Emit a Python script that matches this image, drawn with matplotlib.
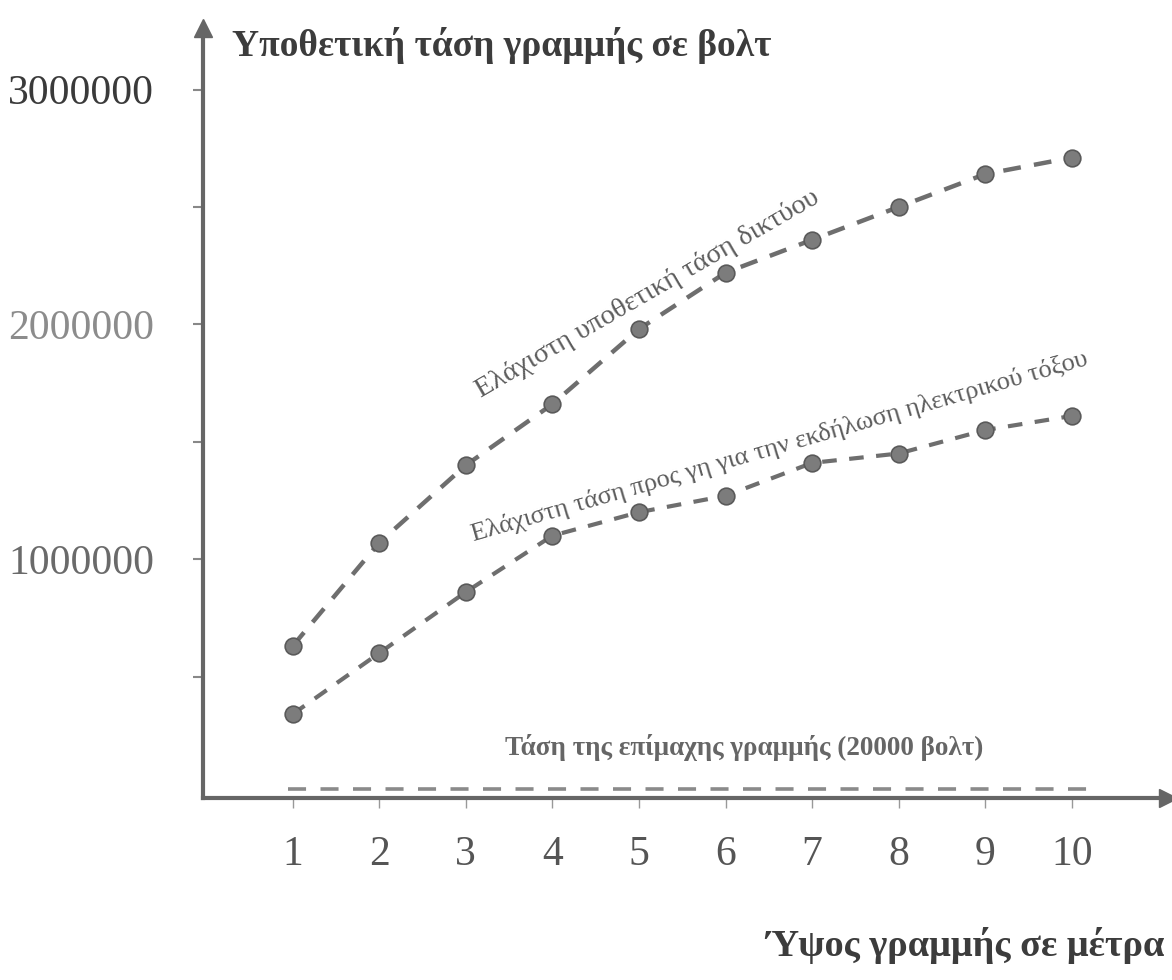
import matplotlib
matplotlib.use("Agg")
import matplotlib.pyplot as plt

# ── Data ─────────────────────────────────────────────────────────────────────
HEIGHT_M = [1, 2, 3, 4, 5, 6, 7, 8, 9, 10]
NETWORK_V = [630000, 1070000, 1400000, 1660000, 1980000,
             2220000, 2360000, 2500000, 2640000, 2710000]
ARC_V = [340000, 600000, 860000, 1100000, 1200000,
         1270000, 1410000, 1450000, 1550000, 1610000]
LINE_V = 20000
Y_TICKS = [1000000, 2000000, 3000000]
Y_TICK_LABELS = ["1000000", "2000000", "3000000"]

SERIF = ["Liberation Serif", "DejaVu Serif"]
AX_COL = "#666666"
LINE_COL = "#6e6e6e"

fig = plt.figure(figsize=(11.72, 9.8), dpi=100)
ax = fig.add_axes([203 / 1172, 1 - 798 / 980, (1168 - 203) / 1172, (798 - 28) / 980])
ax.set_xlim(-0.035, 11.11)
ax.set_ylim(-17000, 3262000)

for s in ("top", "right"):
    ax.spines[s].set_visible(False)
for s in ("left", "bottom"):
    ax.spines[s].set_color(AX_COL)
    ax.spines[s].set_linewidth(3)

# arrow heads on the axes
ax.plot(1, 0, marker=">", ms=13, color=AX_COL, transform=ax.transAxes, clip_on=False)
ax.plot(0, 1, marker="^", ms=13, color=AX_COL, transform=ax.transAxes, clip_on=False)

# curves
ax.plot(HEIGHT_M, NETWORK_V, linestyle=(0, (4, 3)), lw=3.2, color=LINE_COL,
        marker="o", ms=12, mfc="#7c7c7c", mec="#5a5a5a", mew=1.2, zorder=3)
ax.plot(HEIGHT_M, ARC_V, linestyle=(0, (3.5, 3)), lw=3.0, color=LINE_COL,
        marker="o", ms=12, mfc="#7c7c7c", mec="#5a5a5a", mew=1.2, zorder=3)
ax.hlines(LINE_V, 0.95, 10.3, colors="#8a8a8a", linestyles=(0, (5, 4)), lw=2.6)

# ticks
ax.set_xticks(HEIGHT_M)
ax.set_xticklabels([str(v) for v in HEIGHT_M], fontsize=30, family=SERIF, color="#555555")
ax.tick_params(axis="x", length=7, width=1, color="#999999", pad=20)
ax.set_yticks(Y_TICKS)
ax.set_yticks([500000, 1500000, 2500000], minor=True)
ax.set_yticklabels(Y_TICK_LABELS, fontsize=30, family=SERIF)
for lbl, col in zip(ax.get_yticklabels(), ["#6a6a6a", "#8c8c8c", "#3a3a3a"]):
    lbl.set_color(col)
ax.tick_params(axis="y", which="both", length=7, width=1.5, color="#888888", pad=28)

# curve labels
ax.text(5.1, 2130000, "Ελάχιστη υποθετική τάση δικτύου", rotation=30,
        rotation_mode="anchor", ha="center", va="center",
        fontsize=20.5, family=SERIF, color="#5c5c5c")
ax.text(6.62, 1480000, "Ελάχιστη τάση προς γη για την εκδήλωση ηλεκτρικού τόξου",
        rotation=16, rotation_mode="anchor", ha="center", va="center",
        fontsize=19, family=SERIF, color="#5c5c5c")
ax.text(6.22, 196000, "Τάση της επίμαχης γραμμής (20000 βολτ)",
        ha="center", va="center", fontsize=19.5, fontweight="bold",
        family=SERIF, color="#666666")

# axis titles
fig.text(232 / 1172, 1 - 45 / 980, "Υποθετική τάση γραμμής σε βολτ",
         ha="left", va="center", fontsize=27, fontweight="bold",
         family=SERIF, color="#3c3c3c")
fig.text(1165 / 1172, 1 - 945 / 980, "Ύψος γραμμής σε μέτρα",
         ha="right", va="center", fontsize=27.5, fontweight="bold",
         family=SERIF, color="#3c3c3c")

fig.savefig("out.png", dpi=100)
